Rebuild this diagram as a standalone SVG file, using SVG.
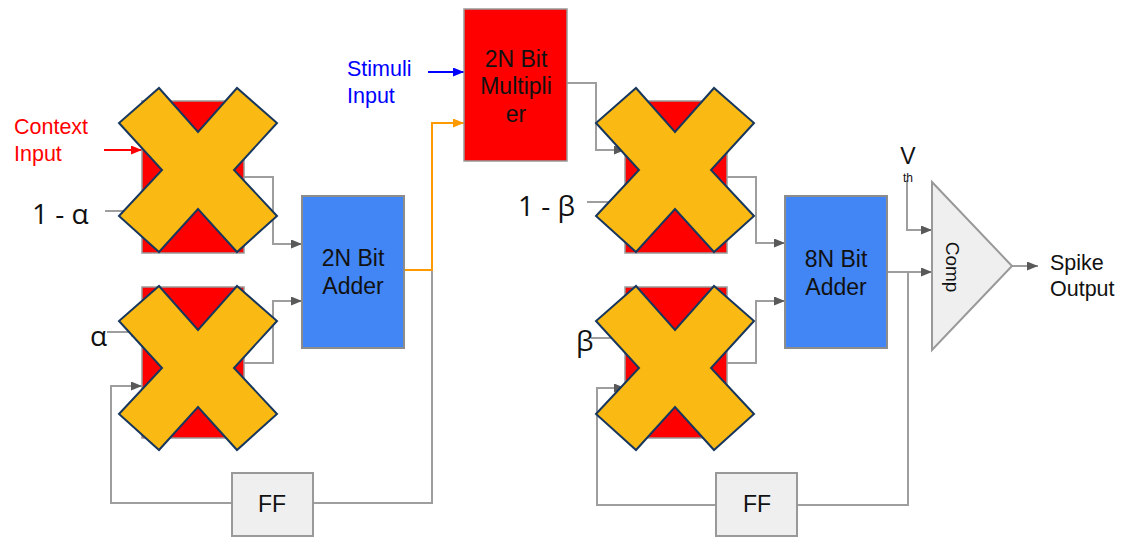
<svg xmlns="http://www.w3.org/2000/svg" width="1122" height="538" viewBox="0 0 1122 538">
<style>
.ln{fill:none;stroke:#9e9e9e;stroke-width:2}
.red{fill:#ff0000;stroke:#999999;stroke-width:1.5}
.blue{fill:#4285f4;stroke:#8c8c8c;stroke-width:2}
.grey{fill:#efefef;stroke:#999999;stroke-width:2}
.xm{fill:#fbba13;stroke:#17375e;stroke-width:2;stroke-linejoin:miter}
.t{font-family:"Liberation Sans",Arial,sans-serif;font-size:23px;fill:#111111;text-anchor:middle}
.tl{font-family:"Liberation Sans",Arial,sans-serif;font-size:21.5px}
.g{font-family:"Open Sans","DejaVu Sans",sans-serif;font-size:28px;fill:#111111}
</style>
<defs>
<marker id="ag" markerUnits="userSpaceOnUse" markerWidth="11" markerHeight="9" refX="11" refY="4.5" orient="auto"><path d="M0,0 L11,4.5 L0,9 z" fill="#595959"/></marker>
<marker id="ar" markerUnits="userSpaceOnUse" markerWidth="11" markerHeight="9" refX="11" refY="4.5" orient="auto"><path d="M0,0 L11,4.5 L0,9 z" fill="#ff0000"/></marker>
<marker id="ab" markerUnits="userSpaceOnUse" markerWidth="11" markerHeight="9" refX="11" refY="4.5" orient="auto"><path d="M0,0 L11,4.5 L0,9 z" fill="#0000ff"/></marker>
<marker id="ao" markerUnits="userSpaceOnUse" markerWidth="11" markerHeight="9" refX="11" refY="4.5" orient="auto"><path d="M0,0 L11,4.5 L0,9 z" fill="#ff9900"/></marker>
<path id="xshape" class="xm" d="M-39,-82 L0,-38 L39,-82 L79,-47 L36,0 L79,46 L39,82 L0,39 L-39,82 L-79,46 L-36,0 L-79,-47 Z"/>
</defs>

<g id="connectors">
<path class="ln" d="M104,150 H142" style="stroke:#ff0000" marker-end="url(#ar)"/>
<path class="ln" d="M105,211 H142" marker-end="url(#ag)"/>
<path class="ln" d="M107,332 H142" marker-end="url(#ag)"/>
<path class="ln" d="M244,177 H273 V244 H302" marker-end="url(#ag)"/>
<path class="ln" d="M244,363 H273 V301 H302" marker-end="url(#ag)"/>
<path class="ln" d="M232,503 H111 V386 H142" marker-end="url(#ag)"/>
<path class="ln" d="M432,270 V503 H313"/>
<path class="ln" d="M404,270 H432 V123 H464" style="stroke:#ff9900" marker-end="url(#ao)"/>
<path class="ln" d="M428,72 H464" style="stroke:#0000ff" marker-end="url(#ab)"/>
<path class="ln" d="M567,83 H596 V150 H625" marker-end="url(#ag)"/>
<path class="ln" d="M587,202 H625" marker-end="url(#ag)"/>
<path class="ln" d="M591,338 H625" marker-end="url(#ag)"/>
<path class="ln" d="M716,505 H597 V388 H625" marker-end="url(#ag)"/>
<path class="ln" d="M727,177 H756 V243 H785" marker-end="url(#ag)"/>
<path class="ln" d="M727,363 H756 V301 H785" marker-end="url(#ag)"/>
<path class="ln" d="M887,272 H932" marker-end="url(#ag)"/>
<path class="ln" d="M908,272 V505 H797"/>
<path class="ln" d="M907,180 V230 H932" marker-end="url(#ag)"/>
<path class="ln" d="M1012,266 H1038" marker-end="url(#ag)"/>
</g>

<g id="labels">
<text class="tl" fill="#ff0000" x="14" y="134">Context</text>
<text class="tl" fill="#ff0000" x="14" y="161">Input</text>
<text class="tl" fill="#0000ff" x="347" y="76">Stimuli</text>
<text class="tl" fill="#0000ff" x="347" y="103">Input</text>
<text class="g" x="32" y="224">1 - α</text>
<text class="g" x="90" y="346">α</text>
<text class="g" x="518" y="216">1 - β</text>
<text class="g" x="576" y="351">β</text>
<text class="t" x="908" y="164">V</text>
<text class="t" x="908" y="182" style="font-size:12px">th</text>
<text class="tl" fill="#111111" x="1050" y="270">Spike</text>
<text class="tl" fill="#111111" x="1050" y="296">Output</text>
</g>

<g id="mul-ctx-top">
<rect class="red" x="142" y="101" width="102" height="152"/>
<use href="#xshape" x="198" y="170"/>
</g>
<g id="mul-ctx-bottom">
<rect class="red" x="142" y="287" width="102" height="151"/>
<use href="#xshape" x="198" y="368"/>
</g>
<g id="adder-2n">
<rect class="blue" x="302" y="196" width="102" height="152"/>
<text class="t" x="353" y="266">2N Bit</text>
<text class="t" x="353" y="294">Adder</text>
</g>
<g id="ff-left">
<rect class="grey" x="232" y="473" width="81" height="63"/>
<text class="t" x="272" y="512">FF</text>
</g>
<g id="multiplier-2n">
<rect class="red" x="464" y="9" width="103" height="152"/>
<text class="t" x="516" y="67">2N Bit</text>
<text class="t" x="516" y="94">Multipli</text>
<text class="t" x="516" y="122">er</text>
</g>
<g id="mul-right-top">
<rect class="red" x="625" y="101" width="102" height="152"/>
<use href="#xshape" x="675" y="170"/>
</g>
<g id="mul-right-bottom">
<rect class="red" x="625" y="287" width="102" height="151"/>
<use href="#xshape" x="675" y="368"/>
</g>
<g id="adder-8n">
<rect class="blue" x="785" y="196" width="102" height="152"/>
<text class="t" x="836" y="267">8N Bit</text>
<text class="t" x="836" y="295">Adder</text>
</g>
<g id="ff-right">
<rect class="grey" x="716" y="473" width="81" height="63"/>
<text class="t" x="757" y="512">FF</text>
</g>
<g id="comparator">
<polygon class="grey" points="932,182 1012,266 932,350"/>
<text class="t" style="font-size:19px" dominant-baseline="central" transform="translate(952,267) rotate(90)">Comp</text>
</g>
</svg>
